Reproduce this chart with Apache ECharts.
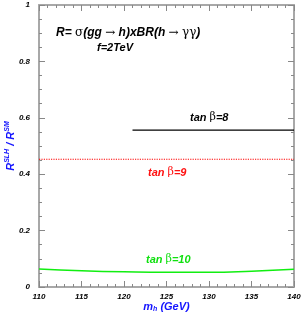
<!DOCTYPE html>
<html><head><meta charset="utf-8">
<script src="https://cdn.jsdelivr.net/npm/echarts@6/dist/echarts.min.js"></script>
<style>html,body{margin:0;padding:0;background:#fff}#c{width:303px;height:316px}</style>
</head><body><div id="c"></div>
<script>
var mh8 = [121, 140];
var r8 = [0.556, 0.556];
var mh9 = [110, 140];
var r9 = [0.453, 0.453];
var mh10 = [110, 115, 120, 125, 130, 135, 140];
var r10 = [0.064, 0.058, 0.054, 0.052, 0.052, 0.056, 0.063];
var xTicks = [110, 115, 120, 125, 130, 135, 140];
var yTicks = [0, 0.2, 0.4, 0.6, 0.8, 1];

function pairs(xs, ys){ return xs.map(function(x,i){return [x, ys[i]];}); }
var FF = '"Liberation Sans", Arial, sans-serif';
var chart = echarts.init(document.getElementById('c'), null, {renderer:'canvas'});
var axisCommon = {
  axisLine:{show:true, onZero:false, lineStyle:{color:'#a8a8a8', width:2}},
  axisTick:{show:true, inside:true, length:6, lineStyle:{color:'#888', width:1}},
  splitLine:{show:false}
};
var lbl = {fontFamily:FF, fontStyle:'italic', fontWeight:'bold', fontSize:8, color:'#000'};
function tanb(txt, col){
  return {text:'{i|tan }{g|β}{i|=' + txt + '}', rich:{
    i:{fontFamily:FF, fontStyle:'italic', fontWeight:'bold', fontSize:11, fill:col},
    g:{fontFamily:'"DejaVu Serif", serif', fontSize:11, fill:col}}};
}
chart.setOption({
  animation:false,
  grid:{left:39, right:9, top:5, bottom:29, containLabel:false, outerBoundsMode:'none'},
  xAxis:[
    Object.assign({type:'value', min:110, max:140, interval:5, position:'bottom',
      axisLabel:Object.assign({margin:6, formatter:function(v){return xTicks.indexOf(v)>=0?String(v):'';}}, lbl),
      name:'{i|m}{s|h}{i| (GeV)}', nameLocation:'middle', nameGap:13, nameMoveOverlap:false,
      nameTextStyle:{rich:{
        i:{fontFamily:FF, fontStyle:'italic', fontWeight:'bold', fontSize:11, color:'#1515ff'},
        s:{fontFamily:FF, fontStyle:'italic', fontWeight:'bold', fontSize:7, color:'#1515ff', verticalAlign:'bottom', padding:[6,0,0,0]}
      }}
    }, axisCommon, {minorTick:{show:true, splitNumber:5, length:3, lineStyle:{color:'#888', width:1}}}),
    Object.assign({type:'value', min:110, max:140, interval:5, position:'top', axisLabel:{show:false}},
      axisCommon, {minorTick:{show:true, splitNumber:5, length:3, lineStyle:{color:'#888', width:1}}})
  ],
  yAxis:[
    Object.assign({type:'value', min:0, max:1, interval:0.2, position:'left',
      axisLabel:Object.assign({margin:9, formatter:function(v){var t=Math.round(v*10)/10; return yTicks.indexOf(t)>=0?String(t):'';}}, lbl),
      name:'{i|R}{s|SLH}{i| / R}{s|SM}', nameLocation:'middle', nameGap:22, nameRotate:90, nameMoveOverlap:false,
      nameTextStyle:{rich:{
        i:{fontFamily:FF, fontStyle:'italic', fontWeight:'bold', fontSize:11, color:'#1515ff'},
        s:{fontFamily:FF, fontStyle:'italic', fontWeight:'bold', fontSize:7, color:'#1515ff', verticalAlign:'top', padding:[0,0,6,0]}
      }}
    }, axisCommon, {minorTick:{show:true, splitNumber:4, length:3, lineStyle:{color:'#888', width:1}}}),
    Object.assign({type:'value', min:0, max:1, interval:0.2, position:'right', axisLabel:{show:false}},
      axisCommon, {minorTick:{show:true, splitNumber:4, length:3, lineStyle:{color:'#888', width:1}}})
  ],
  series:[
    {type:'line', name:'tanb8', data:pairs(mh8, r8), showSymbol:false, symbol:'none',
     itemStyle:{color:'#000'}, lineStyle:{color:'#000', width:1.3}},
    {type:'line', name:'tanb9', data:pairs(mh9, r9), showSymbol:false, symbol:'none',
     itemStyle:{color:'#ff0000'}, lineStyle:{color:'#ff0000', width:1.2, type:'dotted'}},
    {type:'line', name:'tanb10', data:pairs(mh10, r10), smooth:true, showSymbol:false, symbol:'none',
     itemStyle:{color:'#11ee11'}, lineStyle:{color:'#11ee11', width:1.5}}
  ],
  graphic:[
    {type:'text', left:56, top:27, style:{
      text:'{i|R= }{g|σ}{i|(gg }{g|→}{i| h)xBR(h }{g|→}{i| }{g|γγ}{i|)}',
      rich:{
        i:{fontFamily:FF, fontStyle:'italic', fontWeight:'bold', fontSize:12, fill:'#000'},
        g:{fontFamily:'"DejaVu Serif", serif', fontSize:12, fill:'#000'}
      }}},
    {type:'text', left:97, top:42, style:{text:'f=2TeV',
      font:'italic bold 11px "Liberation Sans", Arial, sans-serif', fill:'#000'}},
    {type:'text', left:190, top:112, style:tanb('8', '#000')},
    {type:'text', left:148, top:167, style:tanb('9', '#ff1010')},
    {type:'text', left:146, top:254, style:tanb('10', '#10e010')}
  ]
});
</script></body></html>
